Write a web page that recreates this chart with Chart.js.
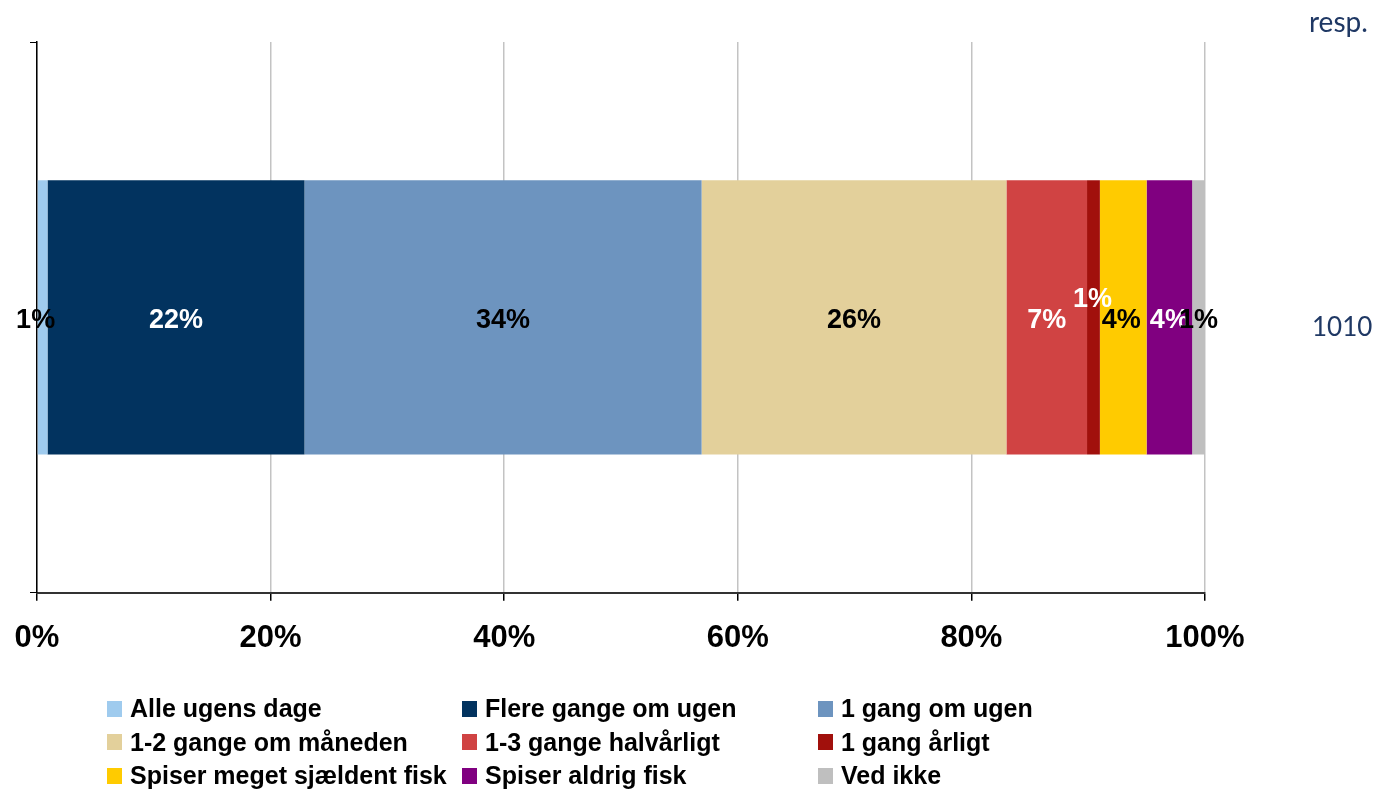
<!DOCTYPE html>
<html>
<head>
<meta charset="utf-8">
<script src="https://cdn.jsdelivr.net/npm/chart.js@4"></script>
<style>
  html, body { margin: 0; padding: 0; background: #fff; }
  #wrap { position: relative; width: 1373px; height: 789px; overflow: hidden; }
  #c { position: absolute; left: 0; top: 0; }
  .side { position: absolute; font-family: Lato, "Open Sans", sans-serif; color: #1f3864; }
  #legend { position: absolute; left: 107px; top: 692px; display: grid; grid-template-columns: 355px 356px 300px; grid-auto-rows: 33.5px; }
  .li { display: flex; align-items: center; font-family: "Liberation Sans", Arial, sans-serif; font-weight: bold; font-size: 25px; color: #000; white-space: nowrap; }
  .sw { width: 15px; height: 16px; margin-right: 8px; flex: none; }
</style>
</head>
<body>
<div id="wrap">
  <canvas id="c" width="1373" height="789"></canvas>
  <div class="side" style="left:1309px; top:4px; font-size:28px;">resp.</div>
  <div class="side" style="left:1312px; top:310px; font-size:26px;">1010</div>
  <div id="legend"></div>
</div>
<script>
// ---- data ----
const categories = ['1010'];
const seriesNames = [
  'Alle ugens dage', 'Flere gange om ugen', '1 gang om ugen',
  '1-2 gange om måneden', '1-3 gange halvårligt', '1 gang årligt',
  'Spiser meget sjældent fisk', 'Spiser aldrig fisk', 'Ved ikke'
];
const seriesValues = [0.9, 22.0, 34.0, 26.1, 6.9, 1.1, 4.0, 3.9, 1.1];
const tickLabels = ['0%', '20%', '40%', '60%', '80%', '100%'];

// ---- styles ----
const colors = ['#9fcbee', '#02335f', '#6d94bf', '#e3d09b', '#d04343', '#a1100c', '#ffcb00', '#800080', '#bfbfbf'];
const labelColors = ['#000', '#fff', '#000', '#000', '#fff', '#fff', '#000', '#fff', '#000'];
const labelOffsets = [[-7, 0], [0, 0], [0, 0], [0, 0], [0, 0], [-1, -21], [-2, 0], [0, 0], [0, 0]];

const datasets = seriesNames.map((name, i) => ({
  label: name,
  data: [seriesValues[i]],
  backgroundColor: colors[i],
  borderWidth: 0,
  barPercentage: 0.498,
  categoryPercentage: 1
}));

const segLabels = {
  id: 'segLabels',
  afterDatasetsDraw(chart) {
    const ctx = chart.ctx;
    ctx.save();
    ctx.font = 'bold 27px "Liberation Sans", Arial, sans-serif';
    ctx.textAlign = 'center';
    ctx.textBaseline = 'middle';
    chart.data.datasets.forEach((ds, i) => {
      const el = chart.getDatasetMeta(i).data[0];
      const cx = (el.x + el.base) / 2 + labelOffsets[i][0];
      const cy = el.y + 3 + labelOffsets[i][1];
      ctx.fillStyle = labelColors[i];
      ctx.fillText(Math.round(ds.data[0]) + '%', cx, cy);
    });
    ctx.restore();
  }
};

new Chart(document.getElementById('c'), {
  type: 'bar',
  data: { labels: categories, datasets },
  options: {
    responsive: false,
    animation: false,
    indexAxis: 'y',
    layout: { padding: { left: 30, top: 42, right: 168, bottom: 113 } },
    plugins: { legend: { display: false }, tooltip: { enabled: false } },
    scales: {
      x: {
        stacked: true, min: 0, max: 100,
        afterFit(scale) { scale.paddingLeft = 0; },
        ticks: {
          stepSize: 20,
          callback: (v, idx) => tickLabels[idx],
          font: { family: '"Liberation Sans", Arial, sans-serif', size: 31, weight: 'bold' },
          color: '#000', padding: 19, maxRotation: 0
        },
        grid: { color: '#c3c3c3', lineWidth: 1.5, tickColor: '#000', tickLength: 8 },
        border: { color: '#333', width: 2 }
      },
      y: {
        stacked: true,
        ticks: { display: false },
        grid: { drawOnChartArea: false, color: '#000', tickLength: 7, offset: true },
        border: { color: '#000', width: 1.5 }
      }
    }
  },
  plugins: [segLabels]
});

const lg = document.getElementById('legend');
seriesNames.forEach((n, i) => {
  const d = document.createElement('div');
  d.className = 'li';
  d.innerHTML = '<span class="sw" style="background:' + colors[i] + '"></span>' + n;
  lg.appendChild(d);
});
</script>
</body>
</html>
